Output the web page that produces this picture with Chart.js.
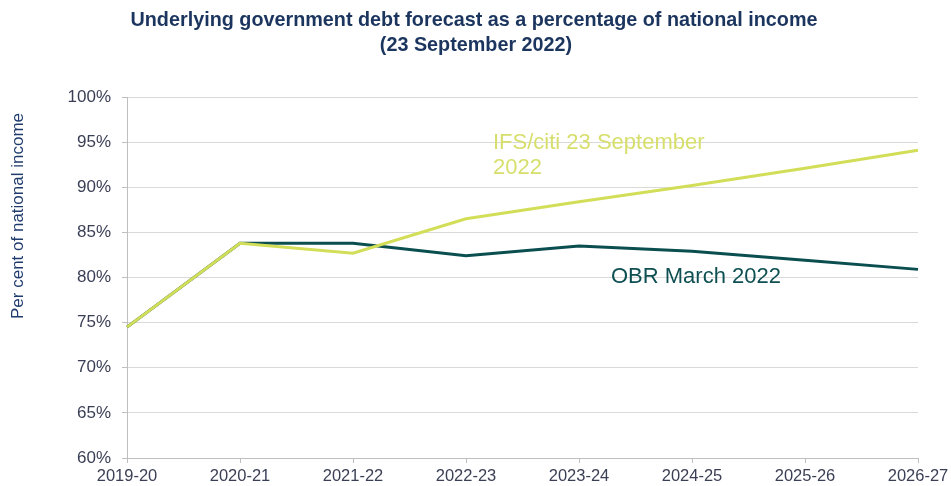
<!DOCTYPE html>
<html>
<head>
<meta charset="utf-8">
<script src="https://cdn.jsdelivr.net/npm/chart.js@4"></script>
<style>
  html, body { margin: 0; padding: 0; background: #fff; }
  #wrap { width: 951px; height: 486px; position: relative; }
</style>
</head>
<body>
<div id="wrap"><canvas id="grafico"></canvas></div>
<script>
// ======= DADOS =======
const anos = ["2019-20", "2020-21", "2021-22", "2022-23", "2023-24", "2024-25", "2025-26", "2026-27"];
const obrMarco = [74.5, 83.8, 83.8, 82.4, 83.5, 82.9, 81.9, 80.9];
const ifsCiti = [74.5, 83.8, 82.7, 86.5, 88.4, 90.2, 92.1, 94.1];
const tituloLinhas = ["Underlying government debt forecast as a percentage of national income", "(23 September 2022)"];
const eixoY = "Per cent of national income";
const rotuloIfs = ["IFS/citi 23 September", "2022"];
const rotuloObr = "OBR March 2022";

const FONTE = "'Liberation Sans', Arial, sans-serif";

// ======= TEXTOS (título, eixo, rótulos) =======
const textos = {
  id: "textos",
  afterDatasetsDraw(chart) {
    const { ctx, scales: { x, y } } = chart;
    ctx.save();

    // rótulos das séries
    ctx.textBaseline = "alphabetic";
    ctx.textAlign = "left";
    ctx.font = "22px " + FONTE;
    ctx.fillStyle = "#d6df6c";
    const xi = x.getPixelForValue(3) + 27;
    const yi = y.getPixelForValue(94.2);
    ctx.fillText(rotuloIfs[0], xi, yi);
    ctx.fillText(rotuloIfs[1], xi, yi + 25);

    ctx.fillStyle = "#0e4f52";
    ctx.fillText(rotuloObr, x.getPixelForValue(4) + 32, y.getPixelForValue(79.35));
    ctx.restore();
  },
  afterDraw(chart) {
    const { ctx } = chart;
    ctx.save();
    // título
    ctx.fillStyle = "#1b355e";
    ctx.font = "bold 19.8px " + FONTE;
    ctx.textAlign = "center";
    ctx.textBaseline = "alphabetic";
    ctx.fillText(tituloLinhas[0], 474, 26);
    ctx.fillText(tituloLinhas[1], 476, 51);

    // título do eixo Y
    ctx.translate(18, 216);
    ctx.rotate(-Math.PI / 2);
    ctx.textBaseline = "middle";
    ctx.font = "17px " + FONTE;
    ctx.fillStyle = "#1f3b6e";
    ctx.fillText(eixoY, 0, 0);
    ctx.restore();
  }
};

// ======= GRÁFICO =======
const ctx = document.getElementById("grafico");
const grafico = new Chart(ctx, {
  type: "line",
  data: {
    labels: anos,
    datasets: [
      {
        label: "IFS/citi 23 September 2022",
        data: ifsCiti,
        borderColor: "#d3de58",
        borderWidth: 3,
        pointRadius: 0,
        tension: 0,
        order: 0
      },
      {
        label: "OBR March 2022",
        data: obrMarco,
        borderColor: "#0b4e50",
        borderWidth: 3,
        pointRadius: 0,
        tension: 0,
        order: 1
      }
    ]
  },
  options: {
    responsive: true,
    maintainAspectRatio: false,
    animation: false,
    layout: { padding: { top: 97, right: 33, bottom: 0, left: 0 } },
    plugins: {
      legend: { display: false },
      title: { display: false },
      tooltip: { enabled: false }
    },
    scales: {
      x: {
        offset: false,
        afterFit(scale) {
          scale.height = 28;
          scale.paddingLeft = 0;
          scale.paddingRight = 0;
        },
        grid: { drawOnChartArea: false, drawTicks: true, tickLength: 5, color: "#bfbfbf" },
        border: { color: "#bfbfbf" },
        ticks: { color: "#3a3f55", font: { family: FONTE, size: 16.5 }, padding: 4, maxRotation: 0, autoSkip: false }
      },
      y: {
        min: 60,
        max: 100,
        afterFit(scale) { scale.width = 127; },
        grid: { color: "#d9d9d9", tickLength: 5, tickColor: "#bfbfbf" },
        border: { color: "#bfbfbf" },
        ticks: {
          stepSize: 5,
          color: "#3a3f55",
          font: { family: FONTE, size: 17 },
          padding: 11,
          callback: v => v + "%"
        }
      }
    }
  },
  plugins: [textos]
});
</script>
</body>
</html>
